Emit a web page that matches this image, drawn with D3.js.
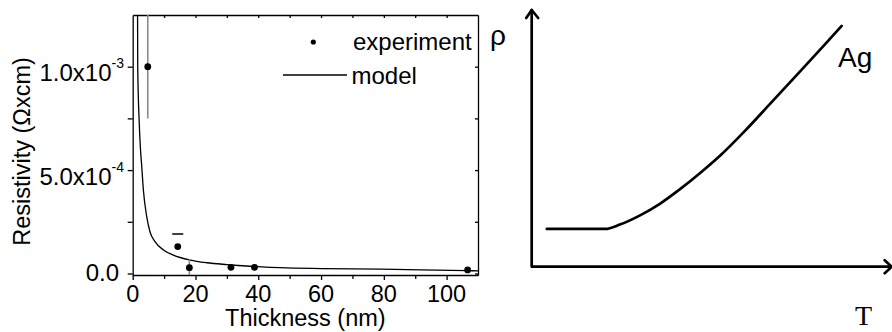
<!DOCTYPE html>
<html>
<head>
<meta charset="utf-8">
<script src="https://cdn.jsdelivr.net/npm/d3@7"></script>
<style>
  html, body { margin: 0; padding: 0; background: #fff; }
  svg { display: block; }
  text { font-family: "Liberation Sans", Arial, sans-serif; fill: #000; }
</style>
</head>
<body>
<svg id="chart" width="892" height="332"></svg>
<script>
// ---------- Left panel data ----------
const thickness   = [4.8, 14.35, 18.05, 31.3, 38.8, 106.7];          // nm
const resistivity = [1.0e-3, 1.30e-4, 2.8e-5, 3.0e-5, 3.0e-5, 1.7e-5]; // Ohm x cm
const errHigh     = [2.5e-4, 6.1e-5, 4.1e-5, 0, 0, 0];
const errLow      = [2.5e-4, 0, 4.1e-5, 0, 0, 0];
const errStyle    = ["stem", "cap", "stem", "none", "none", "none"];

const modelT   = [1.55, 1.6, 2.1, 2.42, 2.87, 3.4, 4.47, 5.5, 7.1, 9.8, 12.95, 18.3, 23.6, 30, 37.4, 43.8, 47, 60, 79, 106.5, 110];
const modelRho = [1.25e-3, 1.0e-3, 7.23e-4, 6.15e-4, 5.2e-4, 4.04e-4, 2.75e-4, 2.02e-4, 1.54e-4, 1.14e-4, 8.9e-5, 6.5e-5, 5.2e-5, 4.3e-5, 3.5e-5, 3.0e-5, 2.8e-5, 2.4e-5, 2.15e-5, 1.35e-5, 1.3e-5];

const xTicksMajor = [0, 20, 40, 60, 80, 100];
const xTicksMinor = [10, 30, 50, 70, 90];
const xTicksTop   = [10, 20, 30, 40, 50, 60, 70, 80, 90, 100];
const yTicks      = [0, 2.5e-4, 5.0e-4, 7.5e-4, 1.0e-3];
const yLabels     = [{v: 0, main: "0.0", sup: ""},
                     {v: 5.0e-4, main: "5.0x10", sup: "-4"},
                     {v: 1.0e-3, main: "1.0x10", sup: "-3"}];
const legendItems = ["experiment", "model"];

// ---------- Right panel data (schematic, arbitrary units) ----------
const schemT   = [4.2, 20.4, 24.5, 30.1, 35.6, 41.2, 46.8, 52.3, 59.3, 66.2, 74.5, 81.9, 86.1];
const schemRho = [14.7, 14.7, 16.4, 20.0, 24.5, 30.2, 36.5, 43.2, 53.0, 63.4, 76.0, 87.3, 93.8];

const svg = d3.select("#chart");

// ================= LEFT PANEL =================
const L = {left: 132.7, right: 478, top: 15, bottom: 275};
const x = d3.scaleLinear().domain([0, 110]).range([L.left, L.right]);
const y = d3.scaleLinear().domain([-7.3e-6, 1.25e-3]).range([L.bottom, L.top]);

const left = svg.append("g");

svg.append("defs").append("clipPath").attr("id", "plotclip")
  .append("rect").attr("x", L.left).attr("y", L.top)
  .attr("width", L.right - L.left).attr("height", L.bottom - L.top);

const axStyle = g => { g.selectAll("path,line").attr("stroke", "#000").attr("stroke-width", 1.3); g.selectAll("text").remove(); };

left.append("g").attr("transform", `translate(0,${L.bottom})`)
  .call(d3.axisBottom(x).tickValues(xTicksMajor).tickSize(5).tickSizeOuter(0)).call(axStyle);
left.append("g").attr("transform", `translate(0,${L.bottom})`)
  .call(d3.axisBottom(x).tickValues(xTicksMinor).tickSize(4).tickSizeOuter(0)).call(axStyle)
  .select(".domain").remove();
left.append("g").attr("transform", `translate(0,${L.top})`)
  .call(d3.axisBottom(x).tickValues(xTicksTop).tickSize(3).tickSizeOuter(0)).call(axStyle);
left.append("g").attr("transform", `translate(${L.left},0)`)
  .call(d3.axisLeft(y).tickValues(yTicks).tickSize(5).tickSizeOuter(0)).call(axStyle);
left.append("g").attr("transform", `translate(${L.right},0)`)
  .call(d3.axisLeft(y).tickValues(yTicks).tickSize(3).tickSizeOuter(0)).call(axStyle);

// x tick labels
left.selectAll(".xlab").data(xTicksMajor).join("text")
  .attr("x", d => x(d)).attr("y", 302)
  .attr("text-anchor", "middle").attr("font-size", 23.5).text(d => d);

// y tick labels
const yl = left.selectAll(".ylab").data(yLabels).join("text")
  .attr("text-anchor", "end").attr("font-size", 24)
  .attr("x", d => d.sup ? 124 : 119)
  .attr("y", d => y(d.v) + (d.sup ? 14.5 : 7.5));
yl.append("tspan").text(d => d.main);
yl.filter(d => d.sup).append("tspan").attr("font-size", 14).attr("dy", -13).text(d => d.sup);

// axis titles
left.append("text").attr("x", (L.left + L.right) / 2).attr("y", 326)
  .attr("text-anchor", "middle").attr("font-size", 23.5).text("Thickness (nm)");
left.append("text").attr("transform", `translate(30,151.5) rotate(-90)`)
  .attr("text-anchor", "middle").attr("font-size", 23.5).text("Resistivity (\u03A9xcm)");

// plot contents
const plot = left.append("g").attr("clip-path", "url(#plotclip)");

plot.append("path")
  .datum(modelT.map((t, i) => [t, modelRho[i]]))
  .attr("fill", "none").attr("stroke", "#000").attr("stroke-width", 1.3)
  .attr("d", d3.line().x(d => x(d[0])).y(d => y(d[1])).curve(d3.curveMonotoneX));

const pts = thickness.map((t, i) => ({t, r: resistivity[i], hi: errHigh[i], lo: errLow[i], s: errStyle[i]}));

plot.selectAll(".stem").data(pts.filter(d => d.s === "stem")).join("line")
  .attr("x1", d => x(d.t)).attr("x2", d => x(d.t))
  .attr("y1", d => y(d.r + d.hi)).attr("y2", d => y(d.r - d.lo))
  .attr("stroke", "#8a8a8a").attr("stroke-width", 1.6);

plot.selectAll(".cap").data(pts.filter(d => d.s === "cap")).join("line")
  .attr("x1", d => x(d.t) - 5.5).attr("x2", d => x(d.t) + 5.5)
  .attr("y1", d => y(d.r + d.hi)).attr("y2", d => y(d.r + d.hi))
  .attr("stroke", "#000").attr("stroke-width", 1.3);

plot.selectAll(".dot").data(pts).join("circle")
  .attr("cx", d => x(d.t)).attr("cy", d => y(d.r)).attr("r", 3.4).attr("fill", "#000");

// legend
const lg = left.append("g");
lg.append("circle").attr("cx", 313.3).attr("cy", 42).attr("r", 2.6).attr("fill", "#000");
lg.append("text").attr("x", 353).attr("y", 50).attr("font-size", 24).text(legendItems[0]);
lg.append("line").attr("x1", 283).attr("x2", 347).attr("y1", 75).attr("y2", 75)
  .attr("stroke", "#000").attr("stroke-width", 1.3);
lg.append("text").attr("x", 351.5).attr("y", 83.5).attr("font-size", 24).text(legendItems[1]);

// ================= RIGHT PANEL =================
const R = {left: 531.7, right: 891.7, top: 10, bottom: 266.7};
const xs = d3.scaleLinear().domain([0, 100]).range([R.left, R.right]);
const ys = d3.scaleLinear().domain([0, 100]).range([R.bottom, R.top]);
const right = svg.append("g").attr("fill", "none").attr("stroke", "#000").attr("stroke-width", 2.7)
  .attr("stroke-linecap", "round").attr("stroke-linejoin", "round");

right.append("path").attr("d", `M${xs(0)},${ys(100)} L${xs(0)},${ys(0)} L${xs(100)},${ys(0)}`);
right.append("path").attr("d", `M${xs(0) - 5.5},${ys(100) + 8} L${xs(0)},${ys(100)} L${xs(0) + 6.5},${ys(100) + 8}`);
right.append("path").attr("d", `M${xs(100) - 7},${ys(0) - 6.5} L${xs(100)},${ys(0)} L${xs(100) - 7},${ys(0) + 6.5}`);

right.append("path")
  .datum(schemT.map((t, i) => [t, schemRho[i]]))
  .attr("d", d3.line().x(d => xs(d[0])).y(d => ys(d[1])).curve(d3.curveMonotoneX));

svg.append("text").attr("x", 490).attr("y", 45).attr("font-size", 28).text("\u03C1");
svg.append("text").attr("x", 838).attr("y", 67).attr("font-size", 28).text("Ag");
svg.append("text").attr("x", 863.5).attr("y", 325).attr("text-anchor", "middle")
  .attr("font-size", 28).style("font-family", "'Liberation Serif', 'Times New Roman', serif").text("T");
</script>
</body>
</html>
